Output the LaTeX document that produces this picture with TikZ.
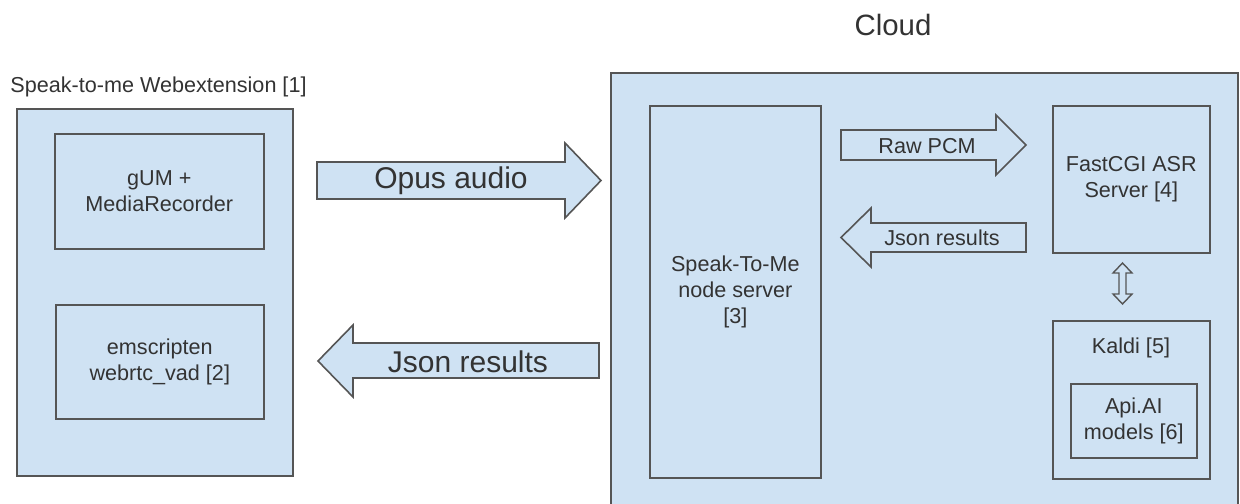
\documentclass[tikz,border=0pt]{standalone}
\usepackage{fontspec}
\setmainfont{Liberation Sans}
\definecolor{boxfill}{HTML}{CFE2F3}
\definecolor{linecol}{HTML}{555555}
\definecolor{txtcol}{HTML}{333333}
\begin{document}
\begin{tikzpicture}[x=0.5pt,y=-0.5pt,
  box/.style={draw=linecol, fill=boxfill, line width=0.8pt, inner sep=0pt, anchor=north west},
  blockarrow/.style={draw=linecol, fill=boxfill, line width=0.8pt, line join=miter},
  small/.style={font=\fontsize{10.8}{13}\selectfont, text=txtcol, align=center},
  big/.style={font=\fontsize{15}{18}\selectfont, text=txtcol, align=center},
  title/.style={font=\fontsize{14.7}{18}\selectfont, text=txtcol}]
\useasboundingbox (0,0) rectangle (1240,503);
% titles
\node[small, anchor=west, inner sep=0pt] (webtitle) at (10,87) {Speak-to-me Webextension [1]};
\node[title, inner sep=0pt] (cloudtitle) at (893,25) {Cloud};
% left
\node[box, minimum width=138pt, minimum height=183.5pt] (web) at (16,108) {};
\node[box, minimum width=104.5pt, minimum height=57.5pt, small] (gum) at (54,133) {gUM +\\MediaRecorder};
\node[box, minimum width=104pt, minimum height=57pt, small] (vad) at (55,304) {emscripten\\webrtc\_vad [2]};
% cloud
\node[box, minimum width=313.5pt, minimum height=222pt] (cloud) at (610,72) {};
\node[box, minimum width=85.5pt, minimum height=186pt, small] (srv) at (649,105) {Speak-To-Me\\node server\\{}[3]};
\node[box, minimum width=78.5pt, minimum height=73.5pt, small] (asr) at (1052,105) {FastCGI ASR\\Server [4]};
\node[box, minimum width=78.5pt, minimum height=79pt] (kaldi) at (1052,320) {};
\node[small, inner sep=0pt] (kaldilbl) at (1131,348) {Kaldi [5]};
\node[box, minimum width=63pt, minimum height=37pt, small] (api) at (1070,383) {Api.AI\\models [6]};
% big arrows
\draw[blockarrow] (317,162) -- (565,162) -- (565,143) -- (601,180.5) -- (565,218) -- (565,199) -- (317,199) -- cycle;
\node[big, inner sep=0pt] (opus) at (451,181) {Opus audio};
\draw[blockarrow] (599,343) -- (353,343) -- (353,325) -- (318,361) -- (353,397) -- (353,378) -- (599,378) -- cycle;
\node[big, inner sep=0pt] (json1) at (468,362) {Json results};
% small arrows
\draw[blockarrow] (841,130) -- (996,130) -- (996,115) -- (1026,145) -- (996,175) -- (996,160) -- (841,160) -- cycle;
\node[small, inner sep=0pt] (pcm) at (927,146) {Raw PCM};
\draw[blockarrow] (1026,223) -- (871,223) -- (871,208) -- (841,237.5) -- (871,267) -- (871,252) -- (1026,252) -- cycle;
\node[small, inner sep=0pt] (json2) at (942,238) {Json results};
% double arrow
\draw[blockarrow, line width=0.7pt] (1122.5,263) -- (1132,273) -- (1126,273) -- (1126,294) -- (1132,294) -- (1122.5,304) -- (1113,294) -- (1119,294) -- (1119,273) -- (1113,273) -- cycle;
\end{tikzpicture}
\end{document}
